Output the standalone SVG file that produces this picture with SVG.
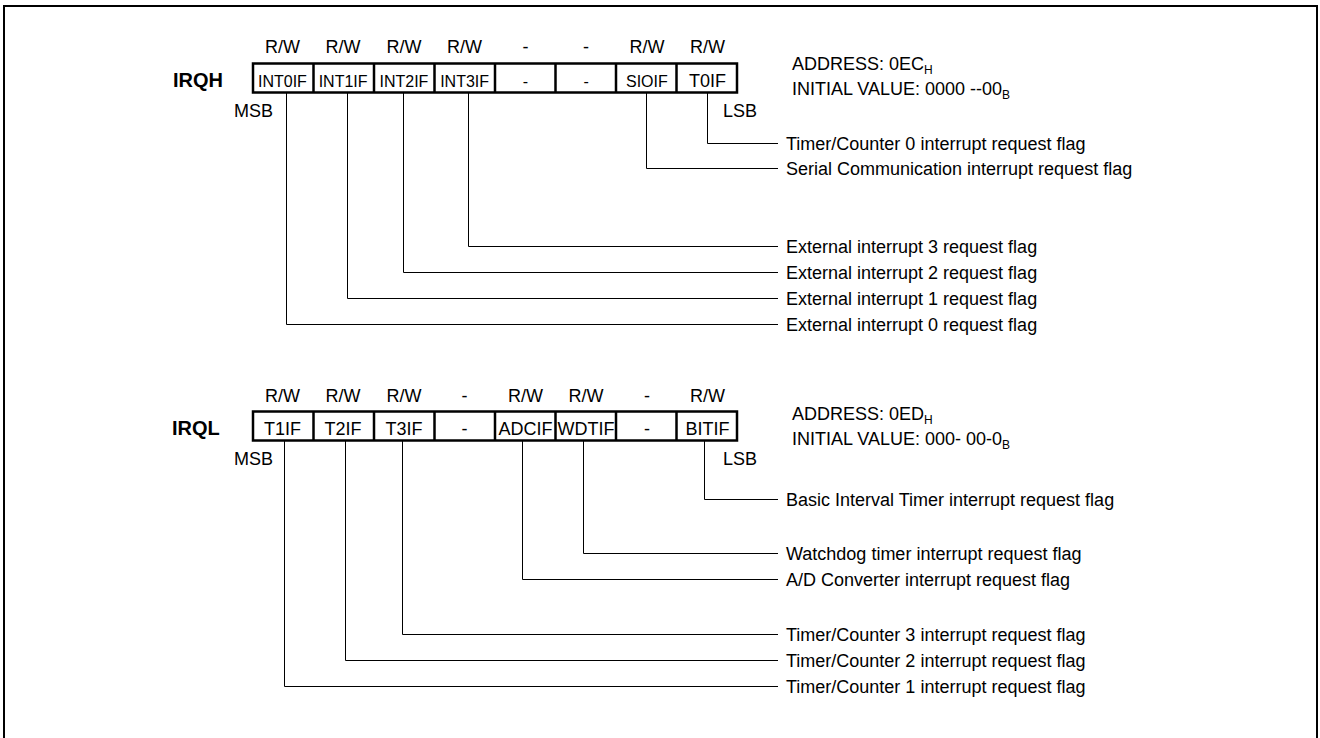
<svg xmlns="http://www.w3.org/2000/svg" width="1320" height="738" viewBox="0 0 1320 738">
<style>
text{font-family:"Liberation Sans",Arial,sans-serif;fill:#000}
.lbl{font-size:18px}
.reg{font-size:20px;font-weight:bold}
.c16{font-size:16px;text-anchor:middle}
.c18{font-size:18px;text-anchor:middle}
.rw{font-size:18px;text-anchor:middle}
.box{fill:#fff;stroke:#000;stroke-width:2.5}
.dv{stroke:#000;stroke-width:2.5}
.conn{fill:none;stroke:#000;stroke-width:1}
.sub{font-size:12px}
</style>
<rect x="4" y="6" width="1313" height="745" fill="none" stroke="#000" stroke-width="2"/>

<g id="irqh">
  <text class="reg" x="173" y="87">IRQH</text>
  <g class="rw">
    <text x="282.4" y="53">R/W</text><text x="343.1" y="53">R/W</text><text x="403.9" y="53">R/W</text><text x="464.6" y="53">R/W</text>
    <text x="525.4" y="53">-</text><text x="586.1" y="53">-</text><text x="646.9" y="53">R/W</text><text x="707.6" y="53">R/W</text>
  </g>
  <rect class="box" x="253" y="63.5" width="484" height="29"/>
  <path class="dv" d="M313.5 63.5V92.5M374 63.5V92.5M434.5 63.5V92.5M495 63.5V92.5M555.5 63.5V92.5M616 63.5V92.5M676.5 63.5V92.5"/>
  <text class="c16" x="282.4" y="87">INT0IF</text>
  <text class="c16" x="343.1" y="87">INT1IF</text>
  <text class="c16" x="403.9" y="87">INT2IF</text>
  <text class="c16" x="464.6" y="87">INT3IF</text>
  <text class="c16" x="525.4" y="87">-</text>
  <text class="c16" x="586.1" y="87">-</text>
  <text class="c16" x="646.9" y="87">SIOIF</text>
  <text class="c18" x="707.6" y="87">T0IF</text>
  <text class="lbl" x="273" y="117" text-anchor="end">MSB</text>
  <text class="lbl" x="723" y="117">LSB</text>
  <text class="lbl" x="792" y="70">ADDRESS: 0EC<tspan class="sub" dy="4">H</tspan></text>
  <text class="lbl" x="792" y="95">INITIAL VALUE: 0000 --00<tspan class="sub" dy="4">B</tspan></text>
</g>

<g id="irql">
  <text class="reg" x="172" y="435">IRQL</text>
  <g class="rw">
    <text x="282.4" y="402">R/W</text><text x="343.1" y="402">R/W</text><text x="403.9" y="402">R/W</text><text x="464.6" y="402">-</text>
    <text x="525.4" y="402">R/W</text><text x="586.1" y="402">R/W</text><text x="646.9" y="402">-</text><text x="707.6" y="402">R/W</text>
  </g>
  <rect class="box" x="253" y="411.5" width="484" height="29"/>
  <path class="dv" d="M313.5 411.5V440.5M374 411.5V440.5M434.5 411.5V440.5M495 411.5V440.5M555.5 411.5V440.5M616 411.5V440.5M676.5 411.5V440.5"/>
  <text class="c18" x="282.4" y="435">T1IF</text>
  <text class="c18" x="343.1" y="435">T2IF</text>
  <text class="c18" x="403.9" y="435">T3IF</text>
  <text class="c18" x="464.6" y="435">-</text>
  <text class="c18" x="525.4" y="435">ADCIF</text>
  <text class="c18" x="586.1" y="435" font-size="17">WDTIF</text>
  <text class="c18" x="646.9" y="435">-</text>
  <text class="c18" x="707.6" y="435">BITIF</text>
  <text class="lbl" x="273" y="465" text-anchor="end">MSB</text>
  <text class="lbl" x="723" y="465">LSB</text>
  <text class="lbl" x="792" y="420">ADDRESS: 0ED<tspan class="sub" dy="4">H</tspan></text>
  <text class="lbl" x="792" y="445">INITIAL VALUE: 000- 00-0<tspan class="sub" dy="4">B</tspan></text>
</g>

<g id="connectors">
  <path class="conn" d="M707.5 93V143.5H778"/>
  <path class="conn" d="M646.5 93V168.5H778"/>
  <path class="conn" d="M468.5 93V246.5H778"/>
  <path class="conn" d="M403.5 93V272.5H778"/>
  <path class="conn" d="M347.5 93V298.5H778"/>
  <path class="conn" d="M286.5 93V324.5H778"/>
  <path class="conn" d="M704.5 441V499.5H778"/>
  <path class="conn" d="M583.5 441V553.5H778"/>
  <path class="conn" d="M522.5 441V579.5H778"/>
  <path class="conn" d="M402.5 441V634.5H778"/>
  <path class="conn" d="M345.5 441V660.5H778"/>
  <path class="conn" d="M284.5 441V686.5H778"/>
</g>

<g id="labels">
  <g id="lbl-t0if"><text class="lbl" x="786" y="150">Timer/Counter 0 interrupt request flag</text></g>
  <g id="lbl-sioif"><text class="lbl" x="786" y="175">Serial Communication interrupt request flag</text></g>
  <g id="lbl-int3if"><text class="lbl" x="786" y="253">External interrupt 3 request flag</text></g>
  <g id="lbl-int2if"><text class="lbl" x="786" y="279">External interrupt 2 request flag</text></g>
  <g id="lbl-int1if"><text class="lbl" x="786" y="305">External interrupt 1 request flag</text></g>
  <g id="lbl-int0if"><text class="lbl" x="786" y="331">External interrupt 0 request flag</text></g>
  <g id="lbl-bitif"><text class="lbl" x="786" y="506">Basic Interval Timer interrupt request flag</text></g>
  <g id="lbl-wdtif"><text class="lbl" x="786" y="560">Watchdog timer interrupt request flag</text></g>
  <g id="lbl-adcif"><text class="lbl" x="786" y="586">A/D Converter interrupt request flag</text></g>
  <g id="lbl-t3if"><text class="lbl" x="786" y="641">Timer/Counter 3 interrupt request flag</text></g>
  <g id="lbl-t2if"><text class="lbl" x="786" y="667">Timer/Counter 2 interrupt request flag</text></g>
  <g id="lbl-t1if"><text class="lbl" x="786" y="693">Timer/Counter 1 interrupt request flag</text></g>
</g>
</svg>
